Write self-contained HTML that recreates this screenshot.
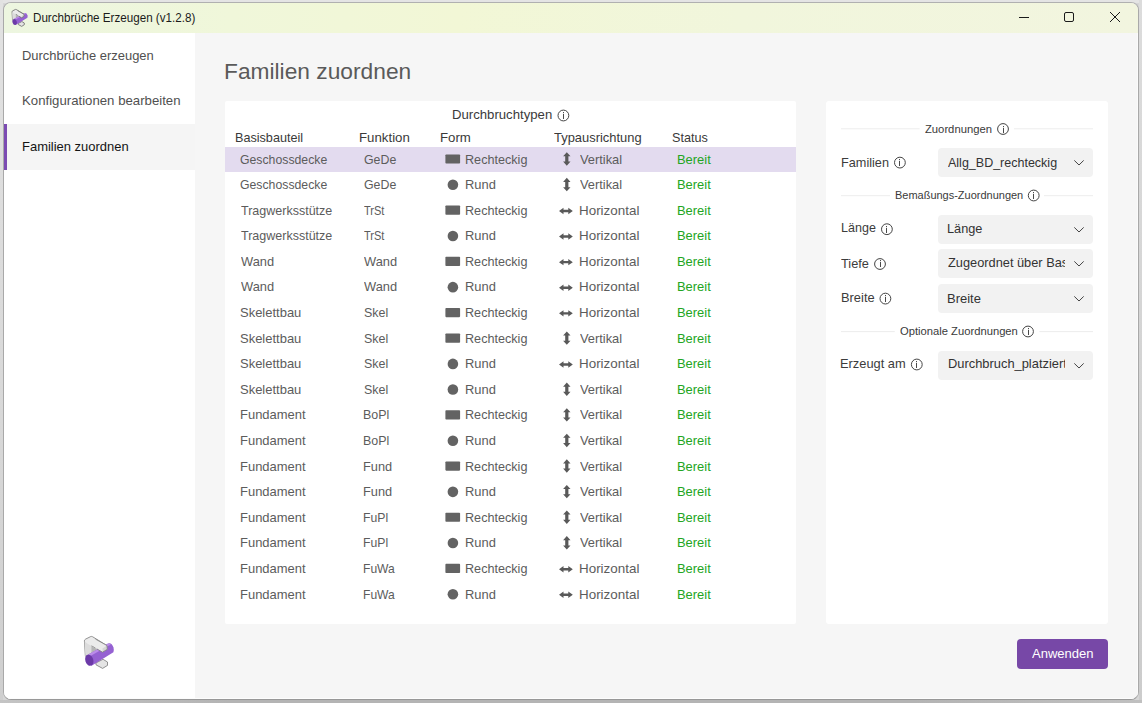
<!DOCTYPE html>
<html><head><meta charset="utf-8"><style>
*{margin:0;padding:0;box-sizing:border-box}
html,body{width:1142px;height:703px;overflow:hidden;background:#dcdcdc}
body{position:relative;font-family:"Liberation Sans",sans-serif;background:#d6d6d6}
.os{position:absolute}
.t{position:absolute;white-space:nowrap;transform-origin:0 0}
.win{position:absolute;left:3px;top:2px;width:1136px;height:698px;border:1px solid #a9a9a9;border-top-color:#b0b0b0;border-bottom-color:#989898;border-radius:8px;background:#f6f6f6;overflow:hidden}
.hlr{position:absolute;right:0;top:30px;width:1px;height:100%;background:#fbfbfb}
.hlb{position:absolute;left:0;bottom:0;height:1px;width:100%;background:#fdfdfd}
.tb{position:absolute;left:0;top:0;width:100%;height:30px;background:linear-gradient(90deg,#edf6e0 0%,#f0f7da 20%,#f2f7d6 40%,#f1f6dc 65%,#f2f5df 100%)}
.side{position:absolute;left:0;top:30px;width:191px;height:670px;background:#fff}
.sel{position:absolute;left:0;top:91px;width:191px;height:46px;background:#f5f5f5}
.bar{position:absolute;left:0;top:91px;width:3px;height:46px;background:#7b4bb2}
.p1{position:absolute;left:225px;top:101px;width:571px;height:523px;background:#fff;border-radius:2px}
.p2{position:absolute;left:826px;top:101px;width:282px;height:523px;background:#fff;border-radius:3px}
.hl{position:absolute;left:225px;top:146.8px;width:571px;height:25px;background:#e3dbef}
.dd{position:absolute;left:938px;width:155px;height:29px;background:#f2f2f2;border-radius:4px}
.btn{position:absolute;left:1017px;top:639px;width:91px;height:30px;background:#7748a7;border-radius:4px}
</style></head><body>
<div class="os" style="left:0;top:0;width:1142px;height:3px;background:#e4e4e4"></div>
<div class="os" style="left:0;top:0;width:3px;height:703px;background:linear-gradient(#e2e2e2,#d8d8d8 60%,#cfcfcf)"></div>
<div class="os" style="right:0;top:0;width:3px;height:703px;background:linear-gradient(#dcdcdc,#d4d4d4 50%,#cccccc)"></div>
<div class="os" style="left:0;bottom:0;width:1142px;height:3px;background:linear-gradient(90deg,#c4c4c4,#b4b4b4 20%,#b4b4b4 80%,#c0c0c0)"></div>
<div class="win">
<div class="tb"></div>
<div class="side"><div class="sel"></div><div class="bar"></div></div>
<div class="hlr"></div><div class="hlb"></div>
</div>
<div class="p1"></div><div class="p2"></div><div class="hl"></div>
<div class="dd" style="top:148px"></div><div class="dd" style="top:215px"></div><div class="dd" style="top:249px"></div><div class="dd" style="top:284px"></div><div class="dd" style="top:351px"></div>
<div class="btn"></div>
<svg style="position:absolute;left:0;top:0" width="1142" height="703">
<rect x="445.4" y="154.39" width="14.7" height="9.2" rx="0.8" fill="#636363"/><path d="M566.80 152.24 L570.50 156.34 L568.40 156.34 L568.40 161.54 L570.50 161.54 L566.80 165.64 L563.10 161.54 L565.20 161.54 L565.20 156.34 L563.10 156.34 Z" fill="#595959"/><circle cx="452.9" cy="184.78" r="5.3" fill="#636363"/><path d="M566.80 177.83 L570.50 181.93 L568.40 181.93 L568.40 187.13 L570.50 187.13 L566.80 191.23 L563.10 187.13 L565.20 187.13 L565.20 181.93 L563.10 181.93 Z" fill="#595959"/><rect x="445.4" y="205.57" width="14.7" height="9.2" rx="0.8" fill="#636363"/><path d="M559.00 210.97 L563.50 207.78 L563.50 209.78 L568.30 209.78 L568.30 207.78 L572.80 210.97 L568.30 214.17 L568.30 212.17 L563.50 212.17 L563.50 214.17 Z" fill="#595959"/><circle cx="452.9" cy="235.96" r="5.3" fill="#636363"/><path d="M559.00 236.56 L563.50 233.36 L563.50 235.36 L568.30 235.36 L568.30 233.36 L572.80 236.56 L568.30 239.76 L568.30 237.76 L563.50 237.76 L563.50 239.76 Z" fill="#595959"/><rect x="445.4" y="256.75" width="14.7" height="9.2" rx="0.8" fill="#636363"/><path d="M559.00 262.16 L563.50 258.96 L563.50 260.96 L568.30 260.96 L568.30 258.96 L572.80 262.16 L568.30 265.36 L568.30 263.36 L563.50 263.36 L563.50 265.36 Z" fill="#595959"/><circle cx="452.9" cy="287.14" r="5.3" fill="#636363"/><path d="M559.00 287.75 L563.50 284.55 L563.50 286.55 L568.30 286.55 L568.30 284.55 L572.80 287.75 L568.30 290.94 L568.30 288.94 L563.50 288.94 L563.50 290.94 Z" fill="#595959"/><rect x="445.4" y="307.94" width="14.7" height="9.2" rx="0.8" fill="#636363"/><path d="M559.00 313.34 L563.50 310.14 L563.50 312.14 L568.30 312.14 L568.30 310.14 L572.80 313.34 L568.30 316.54 L568.30 314.54 L563.50 314.54 L563.50 316.54 Z" fill="#595959"/><rect x="445.4" y="333.52" width="14.7" height="9.2" rx="0.8" fill="#636363"/><path d="M566.80 331.38 L570.50 335.48 L568.40 335.48 L568.40 340.67 L570.50 340.67 L566.80 344.77 L563.10 340.67 L565.20 340.67 L565.20 335.48 L563.10 335.48 Z" fill="#595959"/><circle cx="452.9" cy="363.91" r="5.3" fill="#636363"/><path d="M559.00 364.51 L563.50 361.31 L563.50 363.31 L568.30 363.31 L568.30 361.31 L572.80 364.51 L568.30 367.71 L568.30 365.71 L563.50 365.71 L563.50 367.71 Z" fill="#595959"/><circle cx="452.9" cy="389.50" r="5.3" fill="#636363"/><path d="M566.80 382.56 L570.50 386.66 L568.40 386.66 L568.40 391.85 L570.50 391.85 L566.80 395.95 L563.10 391.85 L565.20 391.85 L565.20 386.66 L563.10 386.66 Z" fill="#595959"/><rect x="445.4" y="410.30" width="14.7" height="9.2" rx="0.8" fill="#636363"/><path d="M566.80 408.15 L570.50 412.25 L568.40 412.25 L568.40 417.44 L570.50 417.44 L566.80 421.55 L563.10 417.44 L565.20 417.44 L565.20 412.25 L563.10 412.25 Z" fill="#595959"/><circle cx="452.9" cy="440.69" r="5.3" fill="#636363"/><path d="M566.80 433.74 L570.50 437.84 L568.40 437.84 L568.40 443.03 L570.50 443.03 L566.80 447.13 L563.10 443.03 L565.20 443.03 L565.20 437.84 L563.10 437.84 Z" fill="#595959"/><rect x="445.4" y="461.47" width="14.7" height="9.2" rx="0.8" fill="#636363"/><path d="M566.80 459.32 L570.50 463.43 L568.40 463.43 L568.40 468.62 L570.50 468.62 L566.80 472.72 L563.10 468.62 L565.20 468.62 L565.20 463.43 L563.10 463.43 Z" fill="#595959"/><circle cx="452.9" cy="491.87" r="5.3" fill="#636363"/><path d="M566.80 484.92 L570.50 489.02 L568.40 489.02 L568.40 494.21 L570.50 494.21 L566.80 498.31 L563.10 494.21 L565.20 494.21 L565.20 489.02 L563.10 489.02 Z" fill="#595959"/><rect x="445.4" y="512.65" width="14.7" height="9.2" rx="0.8" fill="#636363"/><path d="M566.80 510.50 L570.50 514.61 L568.40 514.61 L568.40 519.80 L570.50 519.80 L566.80 523.90 L563.10 519.80 L565.20 519.80 L565.20 514.61 L563.10 514.61 Z" fill="#595959"/><circle cx="452.9" cy="543.04" r="5.3" fill="#636363"/><path d="M566.80 536.09 L570.50 540.19 L568.40 540.19 L568.40 545.39 L570.50 545.39 L566.80 549.49 L563.10 545.39 L565.20 545.39 L565.20 540.19 L563.10 540.19 Z" fill="#595959"/><rect x="445.4" y="563.83" width="14.7" height="9.2" rx="0.8" fill="#636363"/><path d="M559.00 569.23 L563.50 566.03 L563.50 568.03 L568.30 568.03 L568.30 566.03 L572.80 569.23 L568.30 572.43 L568.30 570.43 L563.50 570.43 L563.50 572.43 Z" fill="#595959"/><circle cx="452.9" cy="594.23" r="5.3" fill="#636363"/><path d="M559.00 594.82 L563.50 591.62 L563.50 593.62 L568.30 593.62 L568.30 591.62 L572.80 594.82 L568.30 598.02 L568.30 596.02 L563.50 596.02 L563.50 598.02 Z" fill="#595959"/><circle cx="563.4" cy="115.5" r="5.4" fill="none" stroke="#444" stroke-width="1"/><rect x="563" y="114" width="1" height="5" fill="#4a4a4a"/><rect x="563" y="112" width="1" height="1.2" fill="#4a4a4a"/><circle cx="1003" cy="129" r="5.4" fill="none" stroke="#444" stroke-width="1"/><rect x="1003" y="128" width="1" height="5" fill="#4a4a4a"/><rect x="1003" y="126" width="1" height="1.2" fill="#4a4a4a"/><circle cx="899.9" cy="162.6" r="5.4" fill="none" stroke="#444" stroke-width="1"/><rect x="899" y="161" width="1" height="5" fill="#4a4a4a"/><rect x="899" y="159" width="1" height="1.2" fill="#4a4a4a"/><circle cx="1033.7" cy="195.5" r="5.4" fill="none" stroke="#444" stroke-width="1"/><rect x="1033" y="194" width="1" height="5" fill="#4a4a4a"/><rect x="1033" y="192" width="1" height="1.2" fill="#4a4a4a"/><circle cx="886.9" cy="229.2" r="5.4" fill="none" stroke="#444" stroke-width="1"/><rect x="886" y="228" width="1" height="5" fill="#4a4a4a"/><rect x="886" y="226" width="1" height="1.2" fill="#4a4a4a"/><circle cx="880" cy="264" r="5.4" fill="none" stroke="#444" stroke-width="1"/><rect x="880" y="262" width="1" height="5" fill="#4a4a4a"/><rect x="880" y="260" width="1" height="1.2" fill="#4a4a4a"/><circle cx="885.4" cy="298.6" r="5.4" fill="none" stroke="#444" stroke-width="1"/><rect x="885" y="297" width="1" height="5" fill="#4a4a4a"/><rect x="885" y="295" width="1" height="1.2" fill="#4a4a4a"/><circle cx="1028" cy="331.5" r="5.4" fill="none" stroke="#444" stroke-width="1"/><rect x="1028" y="330" width="1" height="5" fill="#4a4a4a"/><rect x="1028" y="328" width="1" height="1.2" fill="#4a4a4a"/><circle cx="916.8" cy="364.5" r="5.4" fill="none" stroke="#444" stroke-width="1"/><rect x="916" y="363" width="1" height="5" fill="#4a4a4a"/><rect x="916" y="361" width="1" height="1.2" fill="#4a4a4a"/><path d="M1074.3 160.40 L1079 165.00 L1083.7 160.40" fill="none" stroke="#444" stroke-width="1"/><path d="M1074.3 227.40 L1079 232.00 L1083.7 227.40" fill="none" stroke="#444" stroke-width="1"/><path d="M1074.3 261.40 L1079 266.00 L1083.7 261.40" fill="none" stroke="#444" stroke-width="1"/><path d="M1074.3 296.40 L1079 301.00 L1083.7 296.40" fill="none" stroke="#444" stroke-width="1"/><path d="M1074.3 363.40 L1079 368.00 L1083.7 363.40" fill="none" stroke="#444" stroke-width="1"/><rect x="841" y="128.3" width="78.60000000000002" height="1" fill="#ededed"/><rect x="1014" y="128.3" width="79" height="1" fill="#ededed"/><rect x="841" y="195.2" width="49" height="1" fill="#ededed"/><rect x="1044" y="195.2" width="49" height="1" fill="#ededed"/><rect x="841" y="331.1" width="53.799999999999955" height="1" fill="#ededed"/><rect x="1039.3" y="331.1" width="53.700000000000045" height="1" fill="#ededed"/>
<g stroke="#1a1a1a" stroke-width="1" fill="none">
<path d="M1019 17.5 L1029 17.5"/>
<rect x="1064.5" y="12.5" width="9" height="9" rx="1.5"/>
<path d="M1110 12 L1120 22 M1120 12 L1110 22"/>
</g>
<g transform="translate(80,633)"><g>
<path d="M4.4 7.8 Q4.6 6.6 5.6 6.1 L10.6 3.6 Q11.6 3.2 12.5 3.7 L27.0 12.6 L27.3 16.3 L22.5 19.2 L11.6 12.9 L11.6 19.5 L5.4 23.2 Z" fill="#ebebeb" stroke="#7a7a7a" stroke-width="0.8"/>
<path d="M11.6 12.9 L22.5 19.2 L11.6 19.5 Z" fill="#b5b5b5"/>
<path d="M4.6 8.2 L5.4 23.2 L11.6 19.5 L11.6 12.9 L7.2 10.4 Z" fill="#dcdcdc"/>
<path d="M15.8 30.0 L23.0 26.3 L27.5 29.0 L27.5 32.4 L22.6 35.4 L16.1 31.9 Z" fill="#e4e4e4" stroke="#7a7a7a" stroke-width="0.8"/>
<path d="M8.3 21.6 L27.0 11.0 Q31.4 8.6 33.5 14.6 Q34.3 18.0 33.4 19.2 L11.2 32.9 Z" fill="#9561d2"/>
<path d="M8.3 21.6 L27.0 11.0 Q29.4 10.0 30.8 11.4 L10.4 23.0 Z" fill="#bb8ce9"/>
<ellipse cx="9.3" cy="27.2" rx="4.0" ry="5.7" transform="rotate(-18 9.3 27.2)" fill="#6c3aa8"/>
<path d="M15.5 6.1 L27.0 12.6 L27.3 16.3 L22.5 19.2 L15.5 15.1 Z" fill="#ebebeb"/>
<path d="M22.5 15.4 L27.0 12.6 L27.3 16.3 L22.5 19.2 Z" fill="#d6d6d6"/>
<path d="M15.5 6.1 L27.0 12.6 L27.3 16.3 L22.5 19.2 L17.0 16.0" fill="none" stroke="#7a7a7a" stroke-width="0.8"/>
</g></g>
<g transform="translate(9.7,7.6) scale(0.53)"><g>
<path d="M4.4 7.8 Q4.6 6.6 5.6 6.1 L10.6 3.6 Q11.6 3.2 12.5 3.7 L27.0 12.6 L27.3 16.3 L22.5 19.2 L11.6 12.9 L11.6 19.5 L5.4 23.2 Z" fill="#ebebeb" stroke="#6a6a6a" stroke-width="1.5"/>
<path d="M11.6 12.9 L22.5 19.2 L11.6 19.5 Z" fill="#b5b5b5"/>
<path d="M4.6 8.2 L5.4 23.2 L11.6 19.5 L11.6 12.9 L7.2 10.4 Z" fill="#dcdcdc"/>
<path d="M15.8 30.0 L23.0 26.3 L27.5 29.0 L27.5 32.4 L22.6 35.4 L16.1 31.9 Z" fill="#e4e4e4" stroke="#6a6a6a" stroke-width="1.5"/>
<path d="M8.3 21.6 L27.0 11.0 Q31.4 8.6 33.5 14.6 Q34.3 18.0 33.4 19.2 L11.2 32.9 Z" fill="#9561d2"/>
<path d="M8.3 21.6 L27.0 11.0 Q29.4 10.0 30.8 11.4 L10.4 23.0 Z" fill="#bb8ce9"/>
<ellipse cx="9.3" cy="27.2" rx="4.0" ry="5.7" transform="rotate(-18 9.3 27.2)" fill="#6c3aa8"/>
<path d="M15.5 6.1 L27.0 12.6 L27.3 16.3 L22.5 19.2 L15.5 15.1 Z" fill="#ebebeb"/>
<path d="M22.5 15.4 L27.0 12.6 L27.3 16.3 L22.5 19.2 Z" fill="#d6d6d6"/>
<path d="M15.5 6.1 L27.0 12.6 L27.3 16.3 L22.5 19.2 L17.0 16.0" fill="none" stroke="#6a6a6a" stroke-width="1.5"/>
</g></g>
</svg>
<div class="t" style="left:32.54px;top:11.84px;font-size:12px;line-height:12px;color:#1b1b1b;transform:scaleX(0.9693);">Durchbrüche Erzeugen (v1.2.8)</div>
<div class="t" style="left:21.53px;top:49.31px;font-size:13.333px;line-height:13.333px;color:#505050;transform:scaleX(0.9718);">Durchbrüche erzeugen</div>
<div class="t" style="left:21.51px;top:93.91px;font-size:13.333px;line-height:13.333px;color:#505050;transform:scaleX(0.9903);">Konfigurationen bearbeiten</div>
<div class="t" style="left:21.53px;top:139.71px;font-size:13.333px;line-height:13.333px;color:#141414;transform:scaleX(0.9731);">Familien zuordnen</div>
<div class="t" style="left:224.22px;top:59.91px;font-size:22.67px;line-height:22.67px;color:#5a5a5a;transform:scaleX(1.0043);">Familien zuordnen</div>
<div class="t" style="left:451.81px;top:107.91px;font-size:13.333px;line-height:13.333px;color:#3a3a3a;transform:scaleX(0.9873);">Durchbruchtypen</div>
<div class="t" style="left:235.26px;top:130.91px;font-size:13.333px;line-height:13.333px;color:#3a3a3a;transform:scaleX(0.9471);">Basisbauteil</div>
<div class="t" style="left:358.61px;top:130.71px;font-size:13.333px;line-height:13.333px;color:#3a3a3a;transform:scaleX(0.9946);">Funktion</div>
<div class="t" style="left:439.91px;top:130.51px;font-size:13.333px;line-height:13.333px;color:#3a3a3a;transform:scaleX(0.9920);">Form</div>
<div class="t" style="left:554.11px;top:130.51px;font-size:13.333px;line-height:13.333px;color:#3a3a3a;transform:scaleX(0.9690);">Typausrichtung</div>
<div class="t" style="left:671.73px;top:130.51px;font-size:13.333px;line-height:13.333px;color:#3a3a3a;transform:scaleX(0.9474);">Status</div>
<div class="t" style="left:240.39px;top:152.51px;font-size:13.333px;line-height:13.333px;color:#5c5c5c;transform:scaleX(0.9199);">Geschossdecke</div>
<div class="t" style="left:363.78px;top:152.51px;font-size:13.333px;line-height:13.333px;color:#5c5c5c;transform:scaleX(0.9265);">GeDe</div>
<div class="t" style="left:464.66px;top:152.51px;font-size:13.333px;line-height:13.333px;color:#5c5c5c;transform:scaleX(0.9469);">Rechteckig</div>
<div class="t" style="left:579.54px;top:152.51px;font-size:13.333px;line-height:13.333px;color:#5c5c5c;transform:scaleX(0.9634);">Vertikal</div>
<div class="t" style="left:676.83px;top:152.51px;font-size:13.333px;line-height:13.333px;color:#22a522;transform:scaleX(0.9693);">Bereit</div>
<div class="t" style="left:240.39px;top:178.10px;font-size:13.333px;line-height:13.333px;color:#5c5c5c;transform:scaleX(0.9199);">Geschossdecke</div>
<div class="t" style="left:363.78px;top:178.10px;font-size:13.333px;line-height:13.333px;color:#5c5c5c;transform:scaleX(0.9265);">GeDe</div>
<div class="t" style="left:464.63px;top:178.10px;font-size:13.333px;line-height:13.333px;color:#5c5c5c;transform:scaleX(0.9688);">Rund</div>
<div class="t" style="left:579.54px;top:178.10px;font-size:13.333px;line-height:13.333px;color:#5c5c5c;transform:scaleX(0.9634);">Vertikal</div>
<div class="t" style="left:676.83px;top:178.10px;font-size:13.333px;line-height:13.333px;color:#22a522;transform:scaleX(0.9693);">Bereit</div>
<div class="t" style="left:240.72px;top:203.69px;font-size:13.333px;line-height:13.333px;color:#5c5c5c;transform:scaleX(0.9385);">Tragwerksstütze</div>
<div class="t" style="left:364.15px;top:203.69px;font-size:13.333px;line-height:13.333px;color:#5c5c5c;transform:scaleX(0.8272);">TrSt</div>
<div class="t" style="left:464.66px;top:203.69px;font-size:13.333px;line-height:13.333px;color:#5c5c5c;transform:scaleX(0.9469);">Rechteckig</div>
<div class="t" style="left:578.99px;top:203.69px;font-size:13.333px;line-height:13.333px;color:#5c5c5c;transform:scaleX(1.0063);">Horizontal</div>
<div class="t" style="left:676.83px;top:203.69px;font-size:13.333px;line-height:13.333px;color:#22a522;transform:scaleX(0.9693);">Bereit</div>
<div class="t" style="left:240.72px;top:229.28px;font-size:13.333px;line-height:13.333px;color:#5c5c5c;transform:scaleX(0.9385);">Tragwerksstütze</div>
<div class="t" style="left:364.15px;top:229.28px;font-size:13.333px;line-height:13.333px;color:#5c5c5c;transform:scaleX(0.8272);">TrSt</div>
<div class="t" style="left:464.63px;top:229.28px;font-size:13.333px;line-height:13.333px;color:#5c5c5c;transform:scaleX(0.9688);">Rund</div>
<div class="t" style="left:578.99px;top:229.28px;font-size:13.333px;line-height:13.333px;color:#5c5c5c;transform:scaleX(1.0063);">Horizontal</div>
<div class="t" style="left:676.83px;top:229.28px;font-size:13.333px;line-height:13.333px;color:#22a522;transform:scaleX(0.9693);">Bereit</div>
<div class="t" style="left:240.94px;top:254.87px;font-size:13.333px;line-height:13.333px;color:#5c5c5c;transform:scaleX(0.9661);">Wand</div>
<div class="t" style="left:364.34px;top:254.87px;font-size:13.333px;line-height:13.333px;color:#5c5c5c;transform:scaleX(0.9661);">Wand</div>
<div class="t" style="left:464.66px;top:254.87px;font-size:13.333px;line-height:13.333px;color:#5c5c5c;transform:scaleX(0.9469);">Rechteckig</div>
<div class="t" style="left:578.99px;top:254.87px;font-size:13.333px;line-height:13.333px;color:#5c5c5c;transform:scaleX(1.0063);">Horizontal</div>
<div class="t" style="left:676.83px;top:254.87px;font-size:13.333px;line-height:13.333px;color:#22a522;transform:scaleX(0.9693);">Bereit</div>
<div class="t" style="left:240.94px;top:280.46px;font-size:13.333px;line-height:13.333px;color:#5c5c5c;transform:scaleX(0.9661);">Wand</div>
<div class="t" style="left:364.34px;top:280.46px;font-size:13.333px;line-height:13.333px;color:#5c5c5c;transform:scaleX(0.9661);">Wand</div>
<div class="t" style="left:464.63px;top:280.46px;font-size:13.333px;line-height:13.333px;color:#5c5c5c;transform:scaleX(0.9688);">Rund</div>
<div class="t" style="left:578.99px;top:280.46px;font-size:13.333px;line-height:13.333px;color:#5c5c5c;transform:scaleX(1.0063);">Horizontal</div>
<div class="t" style="left:676.83px;top:280.46px;font-size:13.333px;line-height:13.333px;color:#22a522;transform:scaleX(0.9693);">Bereit</div>
<div class="t" style="left:240.42px;top:306.05px;font-size:13.333px;line-height:13.333px;color:#5c5c5c;transform:scaleX(0.9735);">Skelettbau</div>
<div class="t" style="left:363.84px;top:306.05px;font-size:13.333px;line-height:13.333px;color:#5c5c5c;transform:scaleX(0.9332);">Skel</div>
<div class="t" style="left:464.66px;top:306.05px;font-size:13.333px;line-height:13.333px;color:#5c5c5c;transform:scaleX(0.9469);">Rechteckig</div>
<div class="t" style="left:578.99px;top:306.05px;font-size:13.333px;line-height:13.333px;color:#5c5c5c;transform:scaleX(1.0063);">Horizontal</div>
<div class="t" style="left:676.83px;top:306.05px;font-size:13.333px;line-height:13.333px;color:#22a522;transform:scaleX(0.9693);">Bereit</div>
<div class="t" style="left:240.42px;top:331.64px;font-size:13.333px;line-height:13.333px;color:#5c5c5c;transform:scaleX(0.9735);">Skelettbau</div>
<div class="t" style="left:363.84px;top:331.64px;font-size:13.333px;line-height:13.333px;color:#5c5c5c;transform:scaleX(0.9332);">Skel</div>
<div class="t" style="left:464.66px;top:331.64px;font-size:13.333px;line-height:13.333px;color:#5c5c5c;transform:scaleX(0.9469);">Rechteckig</div>
<div class="t" style="left:579.54px;top:331.64px;font-size:13.333px;line-height:13.333px;color:#5c5c5c;transform:scaleX(0.9634);">Vertikal</div>
<div class="t" style="left:676.83px;top:331.64px;font-size:13.333px;line-height:13.333px;color:#22a522;transform:scaleX(0.9693);">Bereit</div>
<div class="t" style="left:240.42px;top:357.23px;font-size:13.333px;line-height:13.333px;color:#5c5c5c;transform:scaleX(0.9735);">Skelettbau</div>
<div class="t" style="left:363.84px;top:357.23px;font-size:13.333px;line-height:13.333px;color:#5c5c5c;transform:scaleX(0.9332);">Skel</div>
<div class="t" style="left:464.63px;top:357.23px;font-size:13.333px;line-height:13.333px;color:#5c5c5c;transform:scaleX(0.9688);">Rund</div>
<div class="t" style="left:578.99px;top:357.23px;font-size:13.333px;line-height:13.333px;color:#5c5c5c;transform:scaleX(1.0063);">Horizontal</div>
<div class="t" style="left:676.83px;top:357.23px;font-size:13.333px;line-height:13.333px;color:#22a522;transform:scaleX(0.9693);">Bereit</div>
<div class="t" style="left:240.42px;top:382.82px;font-size:13.333px;line-height:13.333px;color:#5c5c5c;transform:scaleX(0.9735);">Skelettbau</div>
<div class="t" style="left:363.84px;top:382.82px;font-size:13.333px;line-height:13.333px;color:#5c5c5c;transform:scaleX(0.9332);">Skel</div>
<div class="t" style="left:464.63px;top:382.82px;font-size:13.333px;line-height:13.333px;color:#5c5c5c;transform:scaleX(0.9688);">Rund</div>
<div class="t" style="left:579.54px;top:382.82px;font-size:13.333px;line-height:13.333px;color:#5c5c5c;transform:scaleX(0.9634);">Vertikal</div>
<div class="t" style="left:676.83px;top:382.82px;font-size:13.333px;line-height:13.333px;color:#22a522;transform:scaleX(0.9693);">Bereit</div>
<div class="t" style="left:239.93px;top:408.41px;font-size:13.333px;line-height:13.333px;color:#5c5c5c;transform:scaleX(0.9739);">Fundament</div>
<div class="t" style="left:363.37px;top:408.41px;font-size:13.333px;line-height:13.333px;color:#5c5c5c;transform:scaleX(0.9325);">BoPl</div>
<div class="t" style="left:464.66px;top:408.41px;font-size:13.333px;line-height:13.333px;color:#5c5c5c;transform:scaleX(0.9469);">Rechteckig</div>
<div class="t" style="left:579.54px;top:408.41px;font-size:13.333px;line-height:13.333px;color:#5c5c5c;transform:scaleX(0.9634);">Vertikal</div>
<div class="t" style="left:676.83px;top:408.41px;font-size:13.333px;line-height:13.333px;color:#22a522;transform:scaleX(0.9693);">Bereit</div>
<div class="t" style="left:239.93px;top:434.00px;font-size:13.333px;line-height:13.333px;color:#5c5c5c;transform:scaleX(0.9739);">Fundament</div>
<div class="t" style="left:363.37px;top:434.00px;font-size:13.333px;line-height:13.333px;color:#5c5c5c;transform:scaleX(0.9325);">BoPl</div>
<div class="t" style="left:464.63px;top:434.00px;font-size:13.333px;line-height:13.333px;color:#5c5c5c;transform:scaleX(0.9688);">Rund</div>
<div class="t" style="left:579.54px;top:434.00px;font-size:13.333px;line-height:13.333px;color:#5c5c5c;transform:scaleX(0.9634);">Vertikal</div>
<div class="t" style="left:676.83px;top:434.00px;font-size:13.333px;line-height:13.333px;color:#22a522;transform:scaleX(0.9693);">Bereit</div>
<div class="t" style="left:239.93px;top:459.59px;font-size:13.333px;line-height:13.333px;color:#5c5c5c;transform:scaleX(0.9739);">Fundament</div>
<div class="t" style="left:363.34px;top:459.59px;font-size:13.333px;line-height:13.333px;color:#5c5c5c;transform:scaleX(0.9602);">Fund</div>
<div class="t" style="left:464.66px;top:459.59px;font-size:13.333px;line-height:13.333px;color:#5c5c5c;transform:scaleX(0.9469);">Rechteckig</div>
<div class="t" style="left:579.54px;top:459.59px;font-size:13.333px;line-height:13.333px;color:#5c5c5c;transform:scaleX(0.9634);">Vertikal</div>
<div class="t" style="left:676.83px;top:459.59px;font-size:13.333px;line-height:13.333px;color:#22a522;transform:scaleX(0.9693);">Bereit</div>
<div class="t" style="left:239.93px;top:485.18px;font-size:13.333px;line-height:13.333px;color:#5c5c5c;transform:scaleX(0.9739);">Fundament</div>
<div class="t" style="left:363.34px;top:485.18px;font-size:13.333px;line-height:13.333px;color:#5c5c5c;transform:scaleX(0.9602);">Fund</div>
<div class="t" style="left:464.63px;top:485.18px;font-size:13.333px;line-height:13.333px;color:#5c5c5c;transform:scaleX(0.9688);">Rund</div>
<div class="t" style="left:579.54px;top:485.18px;font-size:13.333px;line-height:13.333px;color:#5c5c5c;transform:scaleX(0.9634);">Vertikal</div>
<div class="t" style="left:676.83px;top:485.18px;font-size:13.333px;line-height:13.333px;color:#22a522;transform:scaleX(0.9693);">Bereit</div>
<div class="t" style="left:239.93px;top:510.77px;font-size:13.333px;line-height:13.333px;color:#5c5c5c;transform:scaleX(0.9739);">Fundament</div>
<div class="t" style="left:363.39px;top:510.77px;font-size:13.333px;line-height:13.333px;color:#5c5c5c;transform:scaleX(0.9161);">FuPl</div>
<div class="t" style="left:464.66px;top:510.77px;font-size:13.333px;line-height:13.333px;color:#5c5c5c;transform:scaleX(0.9469);">Rechteckig</div>
<div class="t" style="left:579.54px;top:510.77px;font-size:13.333px;line-height:13.333px;color:#5c5c5c;transform:scaleX(0.9634);">Vertikal</div>
<div class="t" style="left:676.83px;top:510.77px;font-size:13.333px;line-height:13.333px;color:#22a522;transform:scaleX(0.9693);">Bereit</div>
<div class="t" style="left:239.93px;top:536.36px;font-size:13.333px;line-height:13.333px;color:#5c5c5c;transform:scaleX(0.9739);">Fundament</div>
<div class="t" style="left:363.39px;top:536.36px;font-size:13.333px;line-height:13.333px;color:#5c5c5c;transform:scaleX(0.9161);">FuPl</div>
<div class="t" style="left:464.63px;top:536.36px;font-size:13.333px;line-height:13.333px;color:#5c5c5c;transform:scaleX(0.9688);">Rund</div>
<div class="t" style="left:579.54px;top:536.36px;font-size:13.333px;line-height:13.333px;color:#5c5c5c;transform:scaleX(0.9634);">Vertikal</div>
<div class="t" style="left:676.83px;top:536.36px;font-size:13.333px;line-height:13.333px;color:#22a522;transform:scaleX(0.9693);">Bereit</div>
<div class="t" style="left:239.93px;top:561.95px;font-size:13.333px;line-height:13.333px;color:#5c5c5c;transform:scaleX(0.9739);">Fundament</div>
<div class="t" style="left:363.40px;top:561.95px;font-size:13.333px;line-height:13.333px;color:#5c5c5c;transform:scaleX(0.9068);">FuWa</div>
<div class="t" style="left:464.66px;top:561.95px;font-size:13.333px;line-height:13.333px;color:#5c5c5c;transform:scaleX(0.9469);">Rechteckig</div>
<div class="t" style="left:578.99px;top:561.95px;font-size:13.333px;line-height:13.333px;color:#5c5c5c;transform:scaleX(1.0063);">Horizontal</div>
<div class="t" style="left:676.83px;top:561.95px;font-size:13.333px;line-height:13.333px;color:#22a522;transform:scaleX(0.9693);">Bereit</div>
<div class="t" style="left:239.93px;top:587.54px;font-size:13.333px;line-height:13.333px;color:#5c5c5c;transform:scaleX(0.9739);">Fundament</div>
<div class="t" style="left:363.40px;top:587.54px;font-size:13.333px;line-height:13.333px;color:#5c5c5c;transform:scaleX(0.9068);">FuWa</div>
<div class="t" style="left:464.63px;top:587.54px;font-size:13.333px;line-height:13.333px;color:#5c5c5c;transform:scaleX(0.9688);">Rund</div>
<div class="t" style="left:578.99px;top:587.54px;font-size:13.333px;line-height:13.333px;color:#5c5c5c;transform:scaleX(1.0063);">Horizontal</div>
<div class="t" style="left:676.83px;top:587.54px;font-size:13.333px;line-height:13.333px;color:#22a522;transform:scaleX(0.9693);">Bereit</div>
<div class="t" style="left:925.13px;top:123.81px;font-size:11.33px;line-height:11.33px;color:#3a3a3a;transform:scaleX(0.9928);">Zuordnungen</div>
<div class="t" style="left:895.09px;top:190.21px;font-size:11.33px;line-height:11.33px;color:#3a3a3a;transform:scaleX(0.9695);">Bemaßungs-Zuordnungen</div>
<div class="t" style="left:899.67px;top:325.81px;font-size:11.33px;line-height:11.33px;color:#3a3a3a;transform:scaleX(0.9900);">Optionale Zuordnungen</div>
<div class="t" style="left:840.95px;top:155.81px;font-size:13.333px;line-height:13.333px;color:#3c3c3c;transform:scaleX(0.9525);">Familien</div>
<div class="t" style="left:840.97px;top:220.71px;font-size:13.333px;line-height:13.333px;color:#3c3c3c;transform:scaleX(0.9407);">Länge</div>
<div class="t" style="left:841.31px;top:256.71px;font-size:13.333px;line-height:13.333px;color:#3c3c3c;transform:scaleX(0.9588);">Tiefe</div>
<div class="t" style="left:840.94px;top:291.41px;font-size:13.333px;line-height:13.333px;color:#3c3c3c;transform:scaleX(0.9658);">Breite</div>
<div class="t" style="left:840.34px;top:357.31px;font-size:13.333px;line-height:13.333px;color:#3c3c3c;transform:scaleX(0.9638);">Erzeugt am</div>
<div class="t" style="left:947.97px;top:155.81px;font-size:13.333px;line-height:13.333px;color:#333;transform:scaleX(0.9380);">Allg_BD_rechteckig</div>
<div class="t" style="left:947.45px;top:221.61px;font-size:13.333px;line-height:13.333px;color:#333;transform:scaleX(0.9548);">Länge</div>
<div class="t" style="left:947.33px;top:291.51px;font-size:13.333px;line-height:13.333px;color:#333;transform:scaleX(0.9749);">Breite</div>
<div class="t" style="left:1032.27px;top:646.51px;font-size:13.333px;line-height:13.333px;color:#ffffff;transform:scaleX(0.9775);">Anwenden</div>
<div style="position:absolute;left:0;top:0;width:1064.5px;height:703px;overflow:hidden"><div class="t" style="left:947.88px;top:256.41px;font-size:13.333px;line-height:13.333px;color:#333;transform:scaleX(0.9600);">Zugeordnet über Basis</div><div class="t" style="left:947.74px;top:357.31px;font-size:13.333px;line-height:13.333px;color:#333;transform:scaleX(0.9660);">Durchbruch_platziert</div></div>
</body></html>
